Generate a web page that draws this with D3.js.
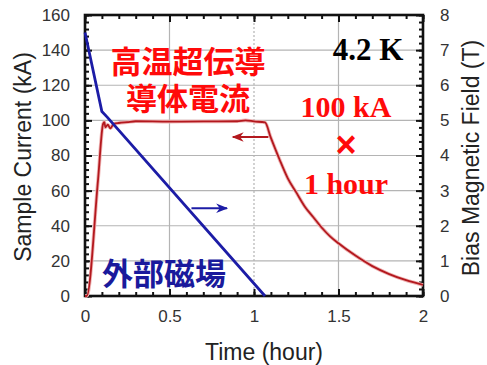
<!DOCTYPE html>
<html>
<head>
<meta charset="utf-8">
<script src="https://cdn.jsdelivr.net/npm/d3@7"></script>
<style>
  body { margin: 0; background: #fff; }
</style>
</head>
<body>
<div class="chart"></div>
<script>
// data
const currentTime = [0, 0.01, 0.077, 0.107, 0.115, 0.12, 0.135, 0.15, 0.17, 0.2, 0.25, 0.3, 0.5, 0.7, 0.9, 0.95, 1.0, 1.065,
  1.1, 1.15, 1.2, 1.25, 1.3, 1.35, 1.4, 1.45, 1.5, 1.6, 1.7, 1.8, 1.9, 2.0];
const currentKA = [0, 0, 66, 98, 99, 96, 97.5, 95.5, 98, 98.5, 99, 99.5, 99.3, 99.4, 99.5, 100, 99.4, 98.8,
  90, 78, 67, 59, 51, 45, 39, 34, 30, 23, 17, 12.5, 9, 6.3];
const fieldTime = [0, 0.1, 0.13, 1.065];
const fieldT = [7.5, 5.25, 5.1, 0];
const xTicks = [0, 0.5, 1, 1.5, 2];
const yTicks = [0, 20, 40, 60, 80, 100, 120, 140, 160];
const y2Ticks = [0, 1, 2, 3, 4, 5, 6, 7, 8];

const W = 487, H = 365;
const pLeft = 85, pRight = 423, pTop = 15, pBottom = 296;
const sans = "'Liberation Sans', Arial, sans-serif";
const cjk = "'Noto Sans CJK JP', sans-serif";
const serif = "'Liberation Serif', 'Times New Roman', serif";

const svg = d3.select(".chart").append("svg")
  .attr("width", W).attr("height", H);

const x = d3.scaleLinear().domain([0, 2]).range([pLeft, pRight]);
const y = d3.scaleLinear().domain([0, 160]).range([pBottom, pTop]);
const y2 = d3.scaleLinear().domain([0, 8]).range([pBottom, pTop]);

/* grid */
const grid = svg.append("g");
grid.selectAll(".gx").data(xTicks.slice(1, -1)).enter().append("line")
  .attr("x1", d => x(d)).attr("x2", d => x(d))
  .attr("y1", pTop).attr("y2", pBottom)
  .attr("stroke", "#b4b4b4").attr("stroke-width", 1.2)
  .attr("stroke-dasharray", d => d === 1 ? "2,2" : null);
grid.selectAll(".gy").data(yTicks.slice(1, -1)).enter().append("line")
  .attr("x1", pLeft).attr("x2", pRight)
  .attr("y1", d => y(d)).attr("y2", d => y(d))
  .attr("stroke", "#b4b4b4").attr("stroke-width", 1.2);

/* axes, ticks inside */
const xMinor = d3.range(0, 2.001, 0.1);
svg.append("g").attr("transform", `translate(0,${pBottom})`)
  .call(d3.axisBottom(x).tickValues(xMinor).tickSize(-4).tickFormat(""));
svg.append("g").attr("transform", `translate(0,${pTop})`)
  .call(d3.axisTop(x).tickValues(xMinor).tickSize(-4).tickFormat(""));
svg.append("g").attr("transform", `translate(0,${pBottom})`)
  .call(d3.axisBottom(x).tickValues(xTicks).tickSize(-7).tickPadding(14).tickFormat(d3.format("")));
svg.append("g").attr("transform", `translate(0,${pTop})`)
  .call(d3.axisTop(x).tickValues(xTicks).tickSize(-7).tickFormat(""));

svg.append("g").attr("transform", `translate(${pLeft},0)`)
  .call(d3.axisLeft(y).tickValues(d3.range(0, 160.1, 4)).tickSize(-4).tickFormat(""));
svg.append("g").attr("transform", `translate(${pLeft},0)`)
  .call(d3.axisLeft(y).tickValues(yTicks).tickSize(-7).tickPadding(15));
svg.append("g").attr("transform", `translate(${pRight},0)`)
  .call(d3.axisRight(y2).tickValues(d3.range(0, 8.01, 0.2)).tickSize(-4).tickFormat(""));
svg.append("g").attr("transform", `translate(${pRight},0)`)
  .call(d3.axisRight(y2).tickValues(y2Ticks).tickSize(-7).tickPadding(17));

svg.selectAll(".domain").remove();
svg.selectAll(".tick line").attr("stroke", "#111").attr("stroke-width", 2);
svg.selectAll(".tick text").style("font-size", "17px").attr("fill", "#333")
  .style("font-family", sans);

svg.append("rect")
  .attr("x", pLeft).attr("y", pTop)
  .attr("width", pRight - pLeft).attr("height", pBottom - pTop)
  .attr("fill", "none").attr("stroke", "#111").attr("stroke-width", 2.6);

/* series */
const redLine = d3.line().x((d, i) => x(currentTime[i])).y(d => y(d))
  .curve(d3.curveMonotoneX);
svg.append("path").datum(currentKA)
  .attr("d", redLine).attr("fill", "none")
  .attr("stroke", "#efb4b4").attr("stroke-width", 3.6).attr("stroke-linejoin", "round");
svg.append("path").datum(currentKA)
  .attr("d", redLine).attr("fill", "none")
  .attr("stroke", "#b3181e").attr("stroke-width", 1.8).attr("stroke-linejoin", "round");

const blueLine = d3.line().x((d, i) => x(fieldTime[i])).y(d => y2(d));
svg.append("path").datum(fieldT)
  .attr("d", blueLine).attr("fill", "none")
  .attr("stroke", "#1c1ca6").attr("stroke-width", 2.8).attr("stroke-linejoin", "round");

/* arrows */
const defs = svg.append("defs");
function marker(id, color) {
  defs.append("marker").attr("id", id)
    .attr("viewBox", "0 0 10 10").attr("refX", 9).attr("refY", 5)
    .attr("markerUnits", "userSpaceOnUse")
    .attr("markerWidth", 14).attr("markerHeight", 12).attr("orient", "auto")
    .append("path").attr("d", "M0,1 L10,5 L0,9 L3,5 Z").attr("fill", color);
}
marker("ar", "#b3181e");
marker("ab", "#1c1ca6");
svg.append("line")
  .attr("x1", x(1.085)).attr("x2", x(0.875))
  .attr("y1", y(90.5)).attr("y2", y(90.5))
  .attr("stroke", "#b3181e").attr("stroke-width", 2).attr("marker-end", "url(#ar)");
svg.append("line")
  .attr("x1", x(0.63)).attr("x2", x(0.84))
  .attr("y1", y2(2.5)).attr("y2", y2(2.5))
  .attr("stroke", "#1c1ca6").attr("stroke-width", 2).attr("marker-end", "url(#ab)");

/* annotations */
function label(tx, ty, txt, font, size, color) {
  return svg.append("text").attr("x", tx).attr("y", ty).attr("text-anchor", "middle")
    .style("font-family", font).style("font-weight", "bold").style("font-size", size + "px")
    .attr("fill", color).text(txt);
}
label(188, 73, "高温超伝導", cjk, 31, "#ff0a0a");
label(188, 110, "導体電流", cjk, 31, "#ff0a0a");
label(164, 285, "外部磁場", cjk, 31, "#1a1a9c");
label(368, 60, "4.2 K", serif, 31, "#000");
label(346, 117, "100 kA", serif, 30, "#ff0a0a");
label(346, 157, "×", sans, 36, "#ff0a0a");
label(346, 194, "1 hour", serif, 30, "#ff0a0a");

/* axis titles */
function title(tr, txt) {
  svg.append("text").attr("transform", tr).attr("text-anchor", "middle")
    .style("font-family", sans).style("font-size", "23px").attr("fill", "#222").text(txt);
}
title("translate(264,360)", "Time (hour)");
title("translate(31,157) rotate(-90)", "Sample Current (kA)");
title("translate(479,158) rotate(-90)", "Bias Magnetic Field (T)");
</script>
</body>
</html>
